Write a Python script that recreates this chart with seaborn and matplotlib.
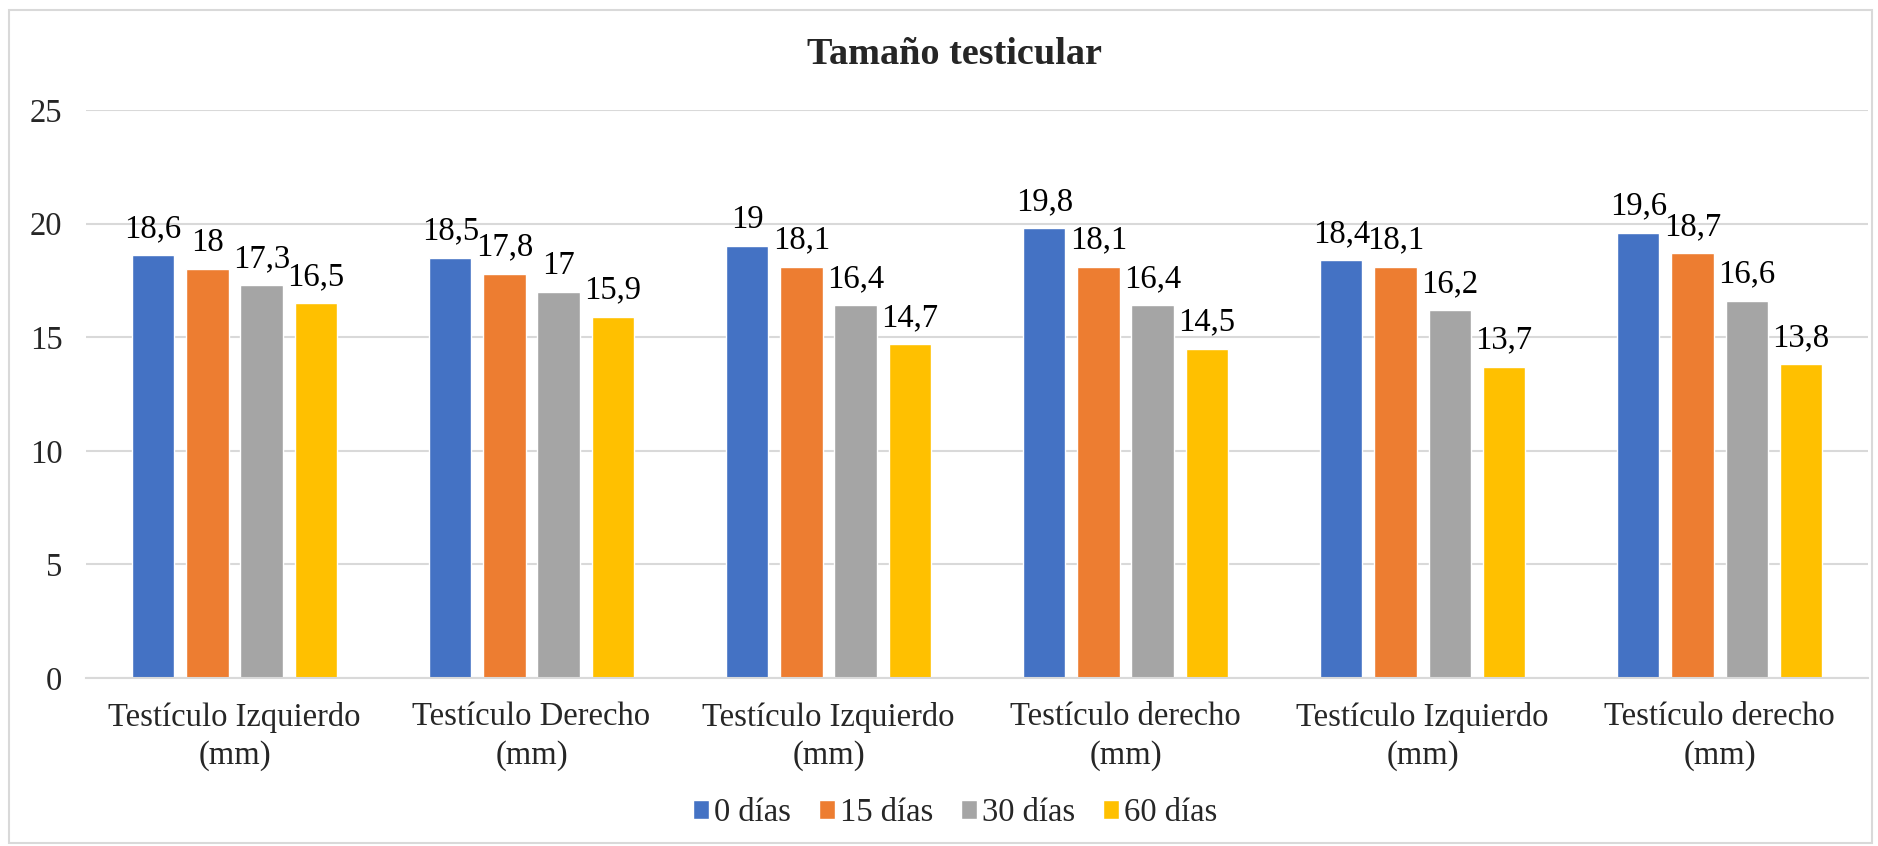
import matplotlib
matplotlib.use("Agg")
import matplotlib.pyplot as plt
import seaborn as sns
import pandas as pd
from matplotlib.patches import Rectangle

# Data
categories = [
    "Testículo Izquierdo\n(mm)",
    "Testículo Derecho\n(mm)",
    "Testículo Izquierdo\n(mm)",
    "Testículo derecho\n(mm)",
    "Testículo Izquierdo\n(mm)",
    "Testículo derecho\n(mm)",
]
series_names = ["0 días", "15 días", "30 días", "60 días"]
dias_0 = [18.6, 18.5, 19.0, 19.8, 18.4, 19.6]
dias_15 = [18.0, 17.8, 18.1, 18.1, 18.1, 18.7]
dias_30 = [17.3, 17.0, 16.4, 16.4, 16.2, 16.6]
dias_60 = [16.5, 15.9, 14.7, 14.5, 13.7, 13.8]

colors = ["#4472C4", "#ED7D31", "#A5A5A5", "#FFC000"]

rows = []
for name, vals in zip(series_names, [dias_0, dias_15, dias_30, dias_60]):
    for i, v in enumerate(vals):
        rows.append({"pos": i, "serie": name, "valor": v})
df = pd.DataFrame(rows)

sns.set_theme(style="white")
plt.rcParams["font.family"] = ["Liberation Serif", "DejaVu Serif"]

FS = 23.5

fig = plt.figure(figsize=(18.78, 8.46), dpi=100)
ax = fig.add_axes([0.0458, 0.1986, 0.9489, 0.6714])

sns.barplot(data=df, x="pos", y="valor", hue="serie", hue_order=series_names,
            palette=colors, width=0.73, gap=0.22, ax=ax, legend=True,
            saturation=1, errorbar=None)

def fmt(v):
    s = f"{v:.1f}".replace(".", ",")
    return s[:-2] if s.endswith(",0") else s

for cont in ax.containers:
    ax.bar_label(cont, labels=[fmt(b.get_height()) for b in cont],
                 padding=8, fontsize=FS, color="#000000")

ax.set_ylim(0, 25)
ax.set_yticks([0, 5, 10, 15, 20, 25])
ax.yaxis.grid(True, color="#D9D9D9", linewidth=1.5)
ax.set_axisbelow(True)
ax.set_xticks(range(len(categories)))
ax.set_xticklabels(categories, fontsize=FS, linespacing=1.33)
ax.tick_params(axis="y", labelsize=FS, length=0, pad=17)
ax.tick_params(axis="x", length=0, pad=17)
ax.set_xlabel("")
ax.set_ylabel("")
for side in ["top", "right", "left"]:
    ax.spines[side].set_visible(False)
ax.spines["bottom"].set_color("#D9D9D9")
ax.spines["bottom"].set_linewidth(1.5)

ax.legend(loc="lower center", bbox_to_anchor=(0.5085, 0.0), bbox_transform=fig.transFigure,
          ncol=4, frameon=False, fontsize=FS, handlelength=0.5, handleheight=0.5,
          handletextpad=0.15, columnspacing=0.85, borderaxespad=0.15)

fig.text(0.5085, 0.936, "Tamaño testicular", ha="center", va="center",
         fontsize=27.5, fontweight="bold")

fig.patches.append(Rectangle((0.005, 0.004), 0.992, 0.984, transform=fig.transFigure,
                             fill=False, edgecolor="#D9D9D9", linewidth=1.5))

fig.savefig("out.png", dpi=100)
